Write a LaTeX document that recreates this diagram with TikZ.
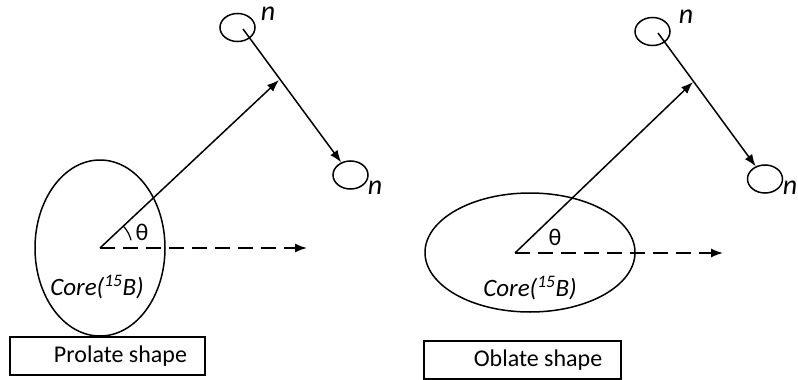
\documentclass[tikz,border=0pt]{standalone}
\usepackage{fontspec}
\setmainfont{Carlito}
\usetikzlibrary{arrows.meta,shapes.geometric}
\begin{document}
\begin{tikzpicture}[x=1pt, y=-1pt, line width=1.5pt,
  arr/.style={-{Latex[length=12pt,width=9pt]}},
  axis/.style={arr, dash pattern=on 15pt off 8pt},
  core/.style={draw, ellipse, inner sep=0pt},
  neutron/.style={draw, ellipse, minimum width=35pt, minimum height=28pt, inner sep=0pt},
  nlab/.style={font=\fontsize{28}{30}\selectfont\itshape, inner sep=1pt},
  corelab/.style={font=\fontsize{25}{28}\selectfont\itshape},
  anglab/.style={font=\fontsize{24}{28}\selectfont},
  shapebox/.style={draw, minimum height=38pt},
  boxlab/.style={font=\fontsize{24}{28}\selectfont}]
  \useasboundingbox (0,0) rectangle (798,380);
  % prolate core
  \node[core, minimum width=130pt, minimum height=176pt] (coreL) at (100,248) {};
  \node[corelab] (cL) at (97,287) {Core(\textsuperscript{15}B)};
  \coordinate (oL) at (100,248);
  \coordinate (xL) at (307,248);
  \coordinate (pL) at (279,80);
  \node[neutron] (nL1) at (237.5,27.5) {};
  \node[neutron] (nL2) at (350.5,175) {};
  \node[nlab] at (268,14) {n};
  \node[nlab] at (375,188) {n};
  \draw[axis] (oL) -- (xL);
  \draw[arr] (oL) -- (pL);
  \draw[arr] ([shift={(5.5,1.5)}]nL1.center) -- (nL2);
  \draw[line width=1.2pt] (oL) ++(-43:32) arc[start angle=-43, end angle=-14, radius=32];
  \node[anglab] (tL) at (142,232) {θ};
  \node[shapebox, minimum width=195pt] (bL) at (107.5,356) {};
  \node[boxlab] at ([xshift=13pt]bL.center) {Prolate shape};
  % oblate core
  \node[core, minimum width=210pt, minimum height=119pt] (coreR) at (530,252.5) {};
  \node[corelab] (cR) at (530,288) {Core(\textsuperscript{15}B)};
  \coordinate (oR) at (515,253);
  \coordinate (xR) at (723,253);
  \coordinate (pR) at (693,82);
  \node[neutron] (nR1) at (652.5,31.5) {};
  \node[neutron] (nR2) at (765,179) {};
  \node[nlab] at (686,17) {n};
  \node[nlab] at (790,188) {n};
  \draw[axis] (oR) -- (xR);
  \draw[arr] (oR) -- (pR);
  \draw[arr] ([shift={(5.5,1.5)}]nR1.center) -- (nR2);
  \node[anglab] (tR) at (555,237) {θ};
  \node[shapebox, minimum width=197pt] (bR) at (522.5,360) {};
  \node[boxlab] at ([xshift=15.5pt]bR.center) {Oblate shape};
\end{tikzpicture}
\end{document}
